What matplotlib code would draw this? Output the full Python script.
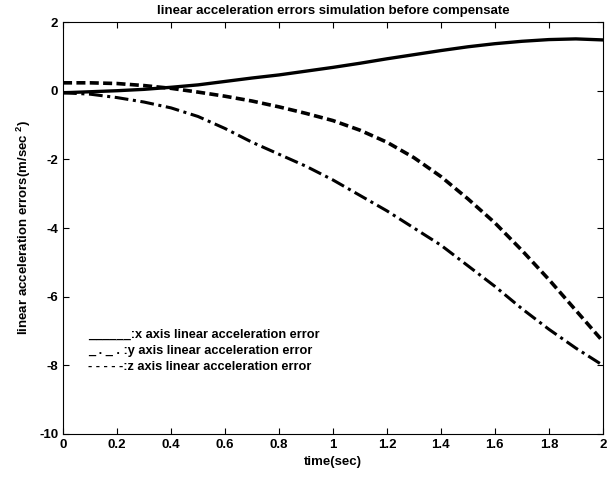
import matplotlib
matplotlib.use("Agg")
import matplotlib.pyplot as plt

# tiempo (s) y errores
t = [0.0, 0.1, 0.2, 0.3, 0.4, 0.5, 0.6, 0.7, 0.8, 0.9, 1.0,
     1.1, 1.2, 1.3, 1.4, 1.5, 1.6, 1.7, 1.8, 1.9, 2.0]
err_x = [-0.06, -0.03, 0.0, 0.04, 0.1, 0.17, 0.27, 0.37, 0.46, 0.57, 0.68,
         0.8, 0.93, 1.05, 1.17, 1.28, 1.37, 1.44, 1.49, 1.51, 1.48]
err_y = [-0.06, -0.1, -0.2, -0.33, -0.5, -0.75, -1.1, -1.5, -1.85, -2.2, -2.6,
         -3.05, -3.5, -4.0, -4.5, -5.1, -5.7, -6.35, -6.95, -7.5, -8.0]
err_z = [0.23, 0.23, 0.21, 0.15, 0.07, -0.04, -0.16, -0.3, -0.47, -0.66, -0.87,
         -1.15, -1.5, -1.95, -2.5, -3.15, -3.85, -4.65, -5.5, -6.4, -7.3]

legend_lines = ["______:x axis linear acceleration error",
                "_ . _ . :y axis linear acceleration error",
                "- - - - -:z axis linear acceleration error"]

plt.rcParams['font.family'] = ['Liberation Sans', 'DejaVu Sans']
plt.rcParams['font.weight'] = 'bold'
plt.rcParams['axes.unicode_minus'] = False
plt.rcParams['mathtext.fontset'] = 'custom'
plt.rcParams['mathtext.rm'] = 'Liberation Sans:bold'
plt.rcParams['mathtext.bf'] = 'Liberation Sans:bold'

fig = plt.figure(figsize=(6.12, 4.8), dpi=100)
ax = fig.add_axes([0.103, 0.096, 0.882, 0.858])

ax.plot(t, err_x, color='black', linewidth=2.4, linestyle='-')
ax.plot(t, err_y, color='black', linewidth=2.2, linestyle=(0, (4.5, 1.5, 1, 1.5)))
ax.plot(t, err_z, color='black', linewidth=2.6, linestyle=(0, (2.5, 1.2)))

ax.set_xlim(0, 2)
ax.set_ylim(-10, 2)
ax.set_xticks([0, 0.2, 0.4, 0.6, 0.8, 1, 1.2, 1.4, 1.6, 1.8, 2])
ax.set_xticklabels(['0', '0.2', '0.4', '0.6', '0.8', '1', '1.2', '1.4', '1.6', '1.8', '2'])
ax.set_yticks([-10, -8, -6, -4, -2, 0, 2])
ax.tick_params(direction='in', top=True, right=True, labelsize=9.5, length=4)
for lab in ax.get_xticklabels() + ax.get_yticklabels():
    lab.set_fontweight('bold')

ax.set_xlabel("time(sec)", fontsize=9.5, fontweight='bold')
ax.set_ylabel(r"linear acceleration errors(m/sec$^{\ 2}$)", fontsize=9.5, fontweight='bold')
ax.set_title("linear acceleration errors simulation before compensate", fontsize=9.5, fontweight='bold')

# leyenda escrita como texto, igual que en la figura original
for i, linea in enumerate(legend_lines):
    ax.text(0.093, -7.1 - 0.47 * i, linea, fontsize=9.2, fontweight='bold', va='center')

fig.savefig("out.png", dpi=100)
